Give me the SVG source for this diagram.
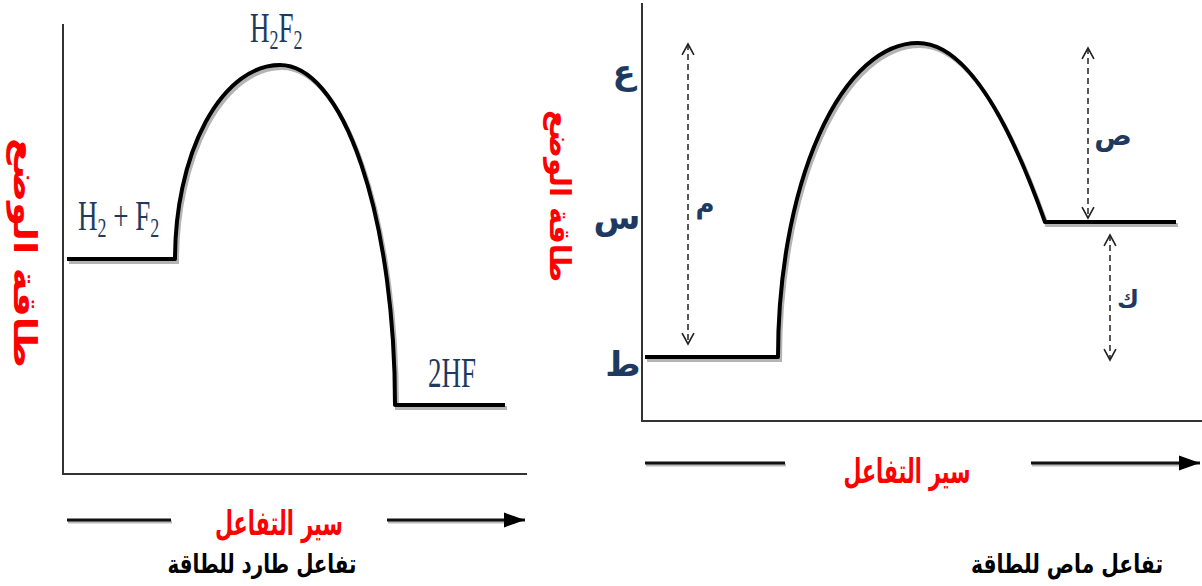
<svg xmlns="http://www.w3.org/2000/svg" width="1202" height="586" viewBox="0 0 1202 586">
<style>
.axis{stroke:#333;stroke-width:2;fill:none}
.curve{stroke:#000;stroke-width:4;fill:none;stroke-linejoin:round}
.shadow{stroke:#b4b4b4;stroke-width:4;fill:none}
.dash{stroke:#222;stroke-width:1.5;fill:none;stroke-dasharray:6 4}
.flow{stroke:#111;stroke-width:3;fill:none}
.flowsh{stroke:#bbb;stroke-width:3;fill:none}
.chem{font-family:"Liberation Serif",serif;font-size:27px;fill:#1F3A60}
.ar{font-family:"DejaVu Sans",sans-serif;font-weight:bold}
.red{fill:#FF0000}
.navy{fill:#1F3A60}
</style>
<defs>
<marker id="open" markerUnits="userSpaceOnUse" markerWidth="14" markerHeight="14" refX="11" refY="6" orient="auto-start-reverse" viewBox="0 0 13 12">
<path d="M1,0.5 L11,6 L1,11.5" fill="none" stroke="#222" stroke-width="1.5"/>
</marker>
<marker id="solid" markerUnits="userSpaceOnUse" markerWidth="22" markerHeight="16" refX="21" refY="8" orient="auto" viewBox="0 0 22 16">
<path d="M0,0.5 L21,8 L0,15.5 Z" fill="#000"/>
</marker>
</defs>

<g id="left-chart">
<g id="left-axes">
<line class="axis" x1="63" y1="24" x2="63" y2="475"/>
<line class="axis" x1="62" y1="474" x2="527" y2="474"/>
</g>
<g id="left-profile">
<path class="shadow" transform="translate(2,3)" d="M67,259 H175 A105,194 0 0 1 280,65 A115,340 0 0 1 395,405 H505"/>
<path class="curve" d="M67,259 H175 A105,194 0 0 1 280,65 A115,340 0 0 1 395,405 H505"/>
</g>
<g id="left-reactants">
<g transform="translate(78,230) scale(1,1.55)"><text class="chem" x="0" y="0">H<tspan font-size="18" dy="4.5">2</tspan><tspan dy="-4.5"> + F</tspan><tspan font-size="18" dy="4.5">2</tspan></text></g>
</g>
<g id="left-complex">
<g transform="translate(250,42) scale(1,1.55)"><text class="chem" x="0" y="0">H<tspan font-size="18" dy="4.5">2</tspan><tspan dy="-4.5">F</tspan><tspan font-size="18" dy="4.5">2</tspan></text></g>
</g>
<g id="left-products">
<g transform="translate(428,387) scale(1,1.55)"><text class="chem" x="0" y="0">2HF</text></g>
</g>
<g id="left-ylabel">
<text class="ar red" font-size="31" transform="translate(14,253) rotate(90)" text-anchor="middle" textLength="230" lengthAdjust="spacingAndGlyphs">طاقة الوضع</text>
</g>
<g id="left-xlabel">
<line class="flowsh" x1="68" y1="522" x2="172" y2="522"/>
<line class="flow" x1="67" y1="520" x2="171" y2="520"/>
<line class="flowsh" x1="388" y1="522" x2="508" y2="522"/>
<line class="flow" x1="387" y1="520" x2="525" y2="520" marker-end="url(#solid)"/>
<text class="ar red" font-size="34" x="279" y="535" text-anchor="middle" textLength="128" lengthAdjust="spacingAndGlyphs">سير التفاعل</text>
</g>
<g id="left-title">
<g transform="translate(262,573) scale(1,1.3)"><text class="ar" font-size="20" x="0" y="0" text-anchor="middle" fill="#000" textLength="189" lengthAdjust="spacingAndGlyphs">تفاعل طارد للطاقة</text></g>
</g>
</g>

<g id="right-chart">
<g id="right-axes">
<line class="axis" x1="642" y1="3" x2="642" y2="422"/>
<line class="axis" x1="641" y1="421" x2="1202" y2="421"/>
</g>
<g id="right-profile">
<path class="shadow" transform="translate(2,3)" d="M645,357 H778 A140,314 0 0 1 918,43 Q981.5,43 1045,222 H1176"/>
<path class="curve" d="M645,357 H778 A140,314 0 0 1 918,43 Q981.5,43 1045,222 H1176"/>
</g>
<g id="right-levels">
<text class="ar navy" font-size="34" x="624" y="84" text-anchor="middle">ع</text>
<text class="ar navy" font-size="34" x="617" y="229" text-anchor="middle">س</text>
<text class="ar navy" font-size="34" x="623" y="376" text-anchor="middle">ط</text>
</g>
<g id="connectors">
<line class="dash" x1="688" y1="44" x2="688" y2="344" marker-start="url(#open)" marker-end="url(#open)"/>
<line class="dash" x1="1088" y1="48" x2="1088" y2="218" marker-start="url(#open)" marker-end="url(#open)"/>
<line class="dash" x1="1110" y1="235" x2="1110" y2="360" marker-start="url(#open)" marker-end="url(#open)"/>
</g>
<g id="right-gaps">
<text class="ar navy" font-size="26" x="705" y="213" text-anchor="middle">م</text>
<text class="ar navy" font-size="28" x="1113" y="145" text-anchor="middle">ص</text>
<text class="ar navy" font-size="24" x="1128" y="307" text-anchor="middle">ك</text>
</g>
<g id="right-ylabel">
<text class="ar red" font-size="29" transform="translate(550,196) rotate(90)" text-anchor="middle" textLength="172" lengthAdjust="spacingAndGlyphs">طاقة الوضع</text>
</g>
<g id="right-xlabel">
<line class="flowsh" x1="646" y1="465" x2="786" y2="465"/>
<line class="flow" x1="645" y1="463" x2="785" y2="463"/>
<line class="flowsh" x1="1032" y1="465" x2="1182" y2="465"/>
<line class="flow" x1="1031" y1="463" x2="1200" y2="463" marker-end="url(#solid)"/>
<text class="ar red" font-size="34" x="907" y="483" text-anchor="middle" textLength="127" lengthAdjust="spacingAndGlyphs">سير التفاعل</text>
</g>
<g id="right-title">
<g transform="translate(1067,573) scale(1,1.3)"><text class="ar" font-size="20" x="0" y="0" text-anchor="middle" fill="#000" textLength="192" lengthAdjust="spacingAndGlyphs">تفاعل ماص للطاقة</text></g>
</g>
</g>
</svg>
